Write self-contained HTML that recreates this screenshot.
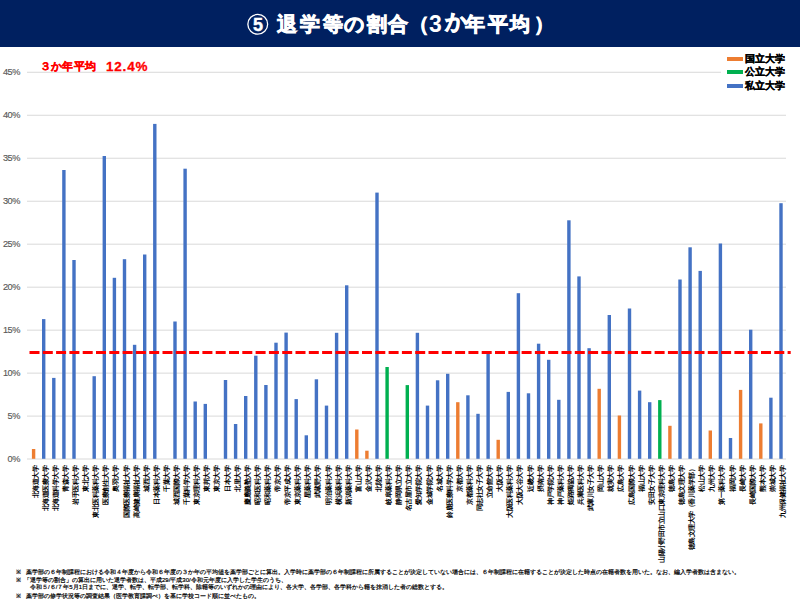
<!DOCTYPE html>
<html><head><meta charset="utf-8">
<style>
html,body{margin:0;padding:0;}
body{width:800px;height:600px;position:relative;overflow:hidden;background:#fff;font-family:"Liberation Sans",sans-serif;}
#hdr{position:absolute;left:0;top:0;width:800px;height:47px;background:#002060;}
.tg{position:absolute;top:9.5px;color:#fff;font-weight:bold;font-size:20px;line-height:28px;white-space:nowrap;-webkit-text-stroke:0.8px #fff;}
.tn{font-size:23px;top:9.5px;-webkit-text-stroke:0;}
#chart{position:absolute;left:0;top:0;}
.yl{position:absolute;right:780px;width:30px;text-align:right;font-size:9.2px;letter-spacing:-0.45px;line-height:12px;color:#595959;-webkit-text-stroke:0.15px #595959;}
.lab{position:absolute;font-size:6.5px;line-height:7px;color:#000;white-space:nowrap;transform-origin:0 0;letter-spacing:-0.54px;font-weight:bold;}
#avg{position:absolute;left:39.5px;top:59px;letter-spacing:0.4px;color:#FF0000;font-weight:bold;font-size:11px;line-height:14px;white-space:nowrap;-webkit-text-stroke:0.3px #f00;}
#avg2{position:absolute;left:106px;top:59.3px;color:#FF0000;font-weight:bold;font-size:13.5px;line-height:16px;letter-spacing:0.8px;white-space:nowrap;-webkit-text-stroke:0.3px #f00;}
.lg{position:absolute;left:727px;width:15.5px;height:4px;}
.lgt{position:absolute;left:745px;font-size:10px;line-height:12px;font-weight:bold;color:#000;white-space:nowrap;-webkit-text-stroke:0.25px #000;}
.note{position:absolute;font-size:6px;line-height:8px;color:#000;white-space:nowrap;-webkit-text-stroke:0.2px #000;}
</style></head><body>
<div id="hdr"></div>
<svg style="position:absolute;left:0;top:0" width="800" height="47"><circle cx="257.75" cy="24.3" r="9.9" fill="none" stroke="#fff" stroke-width="1.3"/><text x="257.9" y="30.8" text-anchor="middle" font-family="Liberation Sans" font-weight="bold" font-size="18" fill="#fff" stroke="#fff" stroke-width="0.4">5</text></svg>
<span class="tg" style="left:277.0px">退</span>
<span class="tg" style="left:300.0px">学</span>
<span class="tg" style="left:322.5px">等</span>
<span class="tg" style="left:344.0px">の</span>
<span class="tg" style="left:366.5px">割</span>
<span class="tg" style="left:387.5px">合</span>
<span class="tg" style="left:409.0px">（</span>
<span class="tg" style="left:464.5px">年</span>
<span class="tg" style="left:487.5px">平</span>
<span class="tg" style="left:509.5px">均</span>
<span class="tg" style="left:534.0px">）</span>
<span class="tg" style="left:444.5px;font-size:22px;top:8.3px">か</span>
<span class="tg tn" style="left:429px">3</span>
<svg id="chart" width="800" height="600">
<line x1="27" y1="416.12" x2="786" y2="416.12" stroke="#D9D9D9" stroke-width="1"/>
<line x1="27" y1="373.14" x2="786" y2="373.14" stroke="#D9D9D9" stroke-width="1"/>
<line x1="27" y1="330.16" x2="786" y2="330.16" stroke="#D9D9D9" stroke-width="1"/>
<line x1="27" y1="287.18" x2="786" y2="287.18" stroke="#D9D9D9" stroke-width="1"/>
<line x1="27" y1="244.20" x2="786" y2="244.20" stroke="#D9D9D9" stroke-width="1"/>
<line x1="27" y1="201.22" x2="786" y2="201.22" stroke="#D9D9D9" stroke-width="1"/>
<line x1="27" y1="158.24" x2="786" y2="158.24" stroke="#D9D9D9" stroke-width="1"/>
<line x1="27" y1="115.26" x2="786" y2="115.26" stroke="#D9D9D9" stroke-width="1"/>
<line x1="27" y1="72.28" x2="721" y2="72.28" stroke="#D9D9D9" stroke-width="1"/>
<line x1="27" y1="459" x2="786" y2="459" stroke="#D9D9D9" stroke-width="1"/>
<rect x="31.90" y="449.0" width="3.4" height="9.8" fill="#ED7D31"/>
<rect x="42.00" y="319.1" width="3.4" height="139.7" fill="#4472C4"/>
<rect x="52.10" y="377.9" width="3.4" height="80.9" fill="#4472C4"/>
<rect x="62.20" y="170.0" width="3.4" height="288.8" fill="#4472C4"/>
<rect x="72.30" y="260.0" width="3.4" height="198.8" fill="#4472C4"/>
<rect x="92.50" y="376.2" width="3.4" height="82.6" fill="#4472C4"/>
<rect x="102.60" y="156.0" width="3.4" height="302.8" fill="#4472C4"/>
<rect x="112.70" y="277.8" width="3.4" height="181.0" fill="#4472C4"/>
<rect x="122.80" y="259.2" width="3.4" height="199.6" fill="#4472C4"/>
<rect x="132.90" y="344.8" width="3.4" height="114.0" fill="#4472C4"/>
<rect x="143.00" y="254.5" width="3.4" height="204.3" fill="#4472C4"/>
<rect x="153.10" y="123.9" width="3.4" height="334.9" fill="#4472C4"/>
<rect x="173.30" y="321.5" width="3.4" height="137.3" fill="#4472C4"/>
<rect x="183.40" y="168.7" width="3.4" height="290.1" fill="#4472C4"/>
<rect x="193.50" y="401.5" width="3.4" height="57.3" fill="#4472C4"/>
<rect x="203.60" y="403.9" width="3.4" height="54.9" fill="#4472C4"/>
<rect x="223.80" y="380.0" width="3.4" height="78.8" fill="#4472C4"/>
<rect x="233.90" y="424.0" width="3.4" height="34.8" fill="#4472C4"/>
<rect x="244.00" y="396.0" width="3.4" height="62.8" fill="#4472C4"/>
<rect x="254.10" y="355.7" width="3.4" height="103.1" fill="#4472C4"/>
<rect x="264.20" y="385.0" width="3.4" height="73.8" fill="#4472C4"/>
<rect x="274.30" y="342.7" width="3.4" height="116.1" fill="#4472C4"/>
<rect x="284.40" y="332.6" width="3.4" height="126.2" fill="#4472C4"/>
<rect x="294.50" y="399.1" width="3.4" height="59.7" fill="#4472C4"/>
<rect x="304.60" y="435.3" width="3.4" height="23.5" fill="#4472C4"/>
<rect x="314.70" y="379.3" width="3.4" height="79.5" fill="#4472C4"/>
<rect x="324.80" y="405.6" width="3.4" height="53.2" fill="#4472C4"/>
<rect x="334.90" y="332.8" width="3.4" height="126.0" fill="#4472C4"/>
<rect x="345.00" y="285.3" width="3.4" height="173.5" fill="#4472C4"/>
<rect x="355.10" y="429.5" width="3.4" height="29.3" fill="#ED7D31"/>
<rect x="365.20" y="450.7" width="3.4" height="8.1" fill="#ED7D31"/>
<rect x="375.30" y="192.6" width="3.4" height="266.2" fill="#4472C4"/>
<rect x="385.40" y="367.0" width="3.4" height="91.8" fill="#00B050"/>
<rect x="405.60" y="385.1" width="3.4" height="73.7" fill="#00B050"/>
<rect x="415.70" y="332.8" width="3.4" height="126.0" fill="#4472C4"/>
<rect x="425.80" y="405.6" width="3.4" height="53.2" fill="#4472C4"/>
<rect x="435.90" y="380.3" width="3.4" height="78.5" fill="#4472C4"/>
<rect x="446.00" y="373.8" width="3.4" height="85.0" fill="#4472C4"/>
<rect x="456.10" y="402.2" width="3.4" height="56.6" fill="#ED7D31"/>
<rect x="466.20" y="395.3" width="3.4" height="63.5" fill="#4472C4"/>
<rect x="476.30" y="413.8" width="3.4" height="45.0" fill="#4472C4"/>
<rect x="486.40" y="353.0" width="3.4" height="105.8" fill="#4472C4"/>
<rect x="496.50" y="439.8" width="3.4" height="19.0" fill="#ED7D31"/>
<rect x="506.60" y="391.9" width="3.4" height="66.9" fill="#4472C4"/>
<rect x="516.70" y="293.2" width="3.4" height="165.6" fill="#4472C4"/>
<rect x="526.80" y="393.3" width="3.4" height="65.5" fill="#4472C4"/>
<rect x="536.90" y="343.7" width="3.4" height="115.1" fill="#4472C4"/>
<rect x="547.00" y="359.8" width="3.4" height="99.0" fill="#4472C4"/>
<rect x="557.10" y="399.8" width="3.4" height="59.0" fill="#4472C4"/>
<rect x="567.20" y="220.3" width="3.4" height="238.5" fill="#4472C4"/>
<rect x="577.30" y="276.4" width="3.4" height="182.4" fill="#4472C4"/>
<rect x="587.40" y="348.2" width="3.4" height="110.6" fill="#4472C4"/>
<rect x="597.50" y="388.8" width="3.4" height="70.0" fill="#ED7D31"/>
<rect x="607.60" y="315.0" width="3.4" height="143.8" fill="#4472C4"/>
<rect x="617.70" y="415.5" width="3.4" height="43.3" fill="#ED7D31"/>
<rect x="627.80" y="308.5" width="3.4" height="150.3" fill="#4472C4"/>
<rect x="637.90" y="390.6" width="3.4" height="68.2" fill="#4472C4"/>
<rect x="648.00" y="402.2" width="3.4" height="56.6" fill="#4472C4"/>
<rect x="658.10" y="400.1" width="3.4" height="58.7" fill="#00B050"/>
<rect x="668.20" y="425.8" width="3.4" height="33.0" fill="#ED7D31"/>
<rect x="678.30" y="279.5" width="3.4" height="179.3" fill="#4472C4"/>
<rect x="688.40" y="247.3" width="3.4" height="211.5" fill="#4472C4"/>
<rect x="698.50" y="270.9" width="3.4" height="187.9" fill="#4472C4"/>
<rect x="708.60" y="430.5" width="3.4" height="28.3" fill="#ED7D31"/>
<rect x="718.70" y="243.5" width="3.4" height="215.3" fill="#4472C4"/>
<rect x="728.80" y="438.0" width="3.4" height="20.8" fill="#4472C4"/>
<rect x="738.90" y="389.9" width="3.4" height="68.9" fill="#ED7D31"/>
<rect x="749.00" y="329.7" width="3.4" height="129.1" fill="#4472C4"/>
<rect x="759.10" y="423.4" width="3.4" height="35.4" fill="#ED7D31"/>
<rect x="769.20" y="397.7" width="3.4" height="61.1" fill="#4472C4"/>
<rect x="779.30" y="203.2" width="3.4" height="255.6" fill="#4472C4"/>
<line x1="29.5" y1="352.4" x2="790.7" y2="352.4" stroke="#FF0000" stroke-width="3" stroke-dasharray="10 3.3"/>
</svg>
<div class="yl" style="top:453.1px">0%</div>
<div class="yl" style="top:410.1px">5%</div>
<div class="yl" style="top:367.1px">10%</div>
<div class="yl" style="top:324.2px">15%</div>
<div class="yl" style="top:281.2px">20%</div>
<div class="yl" style="top:238.2px">25%</div>
<div class="yl" style="top:195.2px">30%</div>
<div class="yl" style="top:152.2px">35%</div>
<div class="yl" style="top:109.3px">40%</div>
<div class="yl" style="top:66.3px">45%</div>
<div id="avg">３か年平均</div><div id="avg2">12.4%</div>
<div class="lg" style="top:56.5px;background:#ED7D31"></div>
<div class="lg" style="top:70.2px;background:#00B050"></div>
<div class="lg" style="top:83.6px;background:#4472C4"></div>
<div class="lgt" style="top:52.5px">国立大学</div>
<div class="lgt" style="top:66px">公立大学</div>
<div class="lgt" style="top:79.5px">私立大学</div>
<div class="lab" style="left:31.6px;top:466px;transform:translate(0,0) rotate(-90deg) translate(-100%,0);">北海道大学</div>
<div class="lab" style="left:41.7px;top:466px;transform:translate(0,0) rotate(-90deg) translate(-100%,0);">北海道医療大学</div>
<div class="lab" style="left:51.8px;top:466px;transform:translate(0,0) rotate(-90deg) translate(-100%,0);">北海道科学大学</div>
<div class="lab" style="left:61.9px;top:466px;transform:translate(0,0) rotate(-90deg) translate(-100%,0);">青森大学</div>
<div class="lab" style="left:72.0px;top:466px;transform:translate(0,0) rotate(-90deg) translate(-100%,0);">岩手医科大学</div>
<div class="lab" style="left:82.1px;top:466px;transform:translate(0,0) rotate(-90deg) translate(-100%,0);">東北大学</div>
<div class="lab" style="left:92.2px;top:466px;transform:translate(0,0) rotate(-90deg) translate(-100%,0);">東北医科薬科大学</div>
<div class="lab" style="left:102.3px;top:466px;transform:translate(0,0) rotate(-90deg) translate(-100%,0);">医療創生大学</div>
<div class="lab" style="left:112.4px;top:466px;transform:translate(0,0) rotate(-90deg) translate(-100%,0);">奥羽大学</div>
<div class="lab" style="left:122.5px;top:466px;transform:translate(0,0) rotate(-90deg) translate(-100%,0);">国際医療福祉大学</div>
<div class="lab" style="left:132.6px;top:466px;transform:translate(0,0) rotate(-90deg) translate(-100%,0);">高崎健康福祉大学</div>
<div class="lab" style="left:142.7px;top:466px;transform:translate(0,0) rotate(-90deg) translate(-100%,0);">城西大学</div>
<div class="lab" style="left:152.8px;top:466px;transform:translate(0,0) rotate(-90deg) translate(-100%,0);">日本薬科大学</div>
<div class="lab" style="left:162.9px;top:466px;transform:translate(0,0) rotate(-90deg) translate(-100%,0);">千葉大学</div>
<div class="lab" style="left:173.0px;top:466px;transform:translate(0,0) rotate(-90deg) translate(-100%,0);">城西国際大学</div>
<div class="lab" style="left:183.1px;top:466px;transform:translate(0,0) rotate(-90deg) translate(-100%,0);">千葉科学大学</div>
<div class="lab" style="left:193.2px;top:466px;transform:translate(0,0) rotate(-90deg) translate(-100%,0);">東京理科大学</div>
<div class="lab" style="left:203.3px;top:466px;transform:translate(0,0) rotate(-90deg) translate(-100%,0);">東邦大学</div>
<div class="lab" style="left:213.4px;top:466px;transform:translate(0,0) rotate(-90deg) translate(-100%,0);">東京大学</div>
<div class="lab" style="left:223.5px;top:466px;transform:translate(0,0) rotate(-90deg) translate(-100%,0);">日本大学</div>
<div class="lab" style="left:233.6px;top:466px;transform:translate(0,0) rotate(-90deg) translate(-100%,0);">北里大学</div>
<div class="lab" style="left:243.7px;top:466px;transform:translate(0,0) rotate(-90deg) translate(-100%,0);">慶應義塾大学</div>
<div class="lab" style="left:253.8px;top:466px;transform:translate(0,0) rotate(-90deg) translate(-100%,0);">昭和医科大学</div>
<div class="lab" style="left:263.9px;top:466px;transform:translate(0,0) rotate(-90deg) translate(-100%,0);">昭和薬科大学</div>
<div class="lab" style="left:274.0px;top:466px;transform:translate(0,0) rotate(-90deg) translate(-100%,0);">帝京大学</div>
<div class="lab" style="left:284.1px;top:466px;transform:translate(0,0) rotate(-90deg) translate(-100%,0);">帝京平成大学</div>
<div class="lab" style="left:294.2px;top:466px;transform:translate(0,0) rotate(-90deg) translate(-100%,0);">東京薬科大学</div>
<div class="lab" style="left:304.3px;top:466px;transform:translate(0,0) rotate(-90deg) translate(-100%,0);">星薬科大学</div>
<div class="lab" style="left:314.4px;top:466px;transform:translate(0,0) rotate(-90deg) translate(-100%,0);">武蔵野大学</div>
<div class="lab" style="left:324.5px;top:466px;transform:translate(0,0) rotate(-90deg) translate(-100%,0);">明治薬科大学</div>
<div class="lab" style="left:334.6px;top:466px;transform:translate(0,0) rotate(-90deg) translate(-100%,0);">横浜薬科大学</div>
<div class="lab" style="left:344.7px;top:466px;transform:translate(0,0) rotate(-90deg) translate(-100%,0);">新潟薬科大学</div>
<div class="lab" style="left:354.8px;top:466px;transform:translate(0,0) rotate(-90deg) translate(-100%,0);">富山大学</div>
<div class="lab" style="left:364.9px;top:466px;transform:translate(0,0) rotate(-90deg) translate(-100%,0);">金沢大学</div>
<div class="lab" style="left:375.0px;top:466px;transform:translate(0,0) rotate(-90deg) translate(-100%,0);">北陸大学</div>
<div class="lab" style="left:385.1px;top:466px;transform:translate(0,0) rotate(-90deg) translate(-100%,0);">岐阜薬科大学</div>
<div class="lab" style="left:395.2px;top:466px;transform:translate(0,0) rotate(-90deg) translate(-100%,0);">静岡県立大学</div>
<div class="lab" style="left:405.3px;top:466px;transform:translate(0,0) rotate(-90deg) translate(-100%,0);">名古屋市立大学</div>
<div class="lab" style="left:415.4px;top:466px;transform:translate(0,0) rotate(-90deg) translate(-100%,0);">愛知学院大学</div>
<div class="lab" style="left:425.5px;top:466px;transform:translate(0,0) rotate(-90deg) translate(-100%,0);">金城学院大学</div>
<div class="lab" style="left:435.6px;top:466px;transform:translate(0,0) rotate(-90deg) translate(-100%,0);">名城大学</div>
<div class="lab" style="left:445.7px;top:466px;transform:translate(0,0) rotate(-90deg) translate(-100%,0);">鈴鹿医療科学大学</div>
<div class="lab" style="left:455.8px;top:466px;transform:translate(0,0) rotate(-90deg) translate(-100%,0);">京都大学</div>
<div class="lab" style="left:465.9px;top:466px;transform:translate(0,0) rotate(-90deg) translate(-100%,0);">京都薬科大学</div>
<div class="lab" style="left:476.0px;top:466px;transform:translate(0,0) rotate(-90deg) translate(-100%,0);">同志社女子大学</div>
<div class="lab" style="left:486.1px;top:466px;transform:translate(0,0) rotate(-90deg) translate(-100%,0);">立命館大学</div>
<div class="lab" style="left:496.2px;top:466px;transform:translate(0,0) rotate(-90deg) translate(-100%,0);">大阪大学</div>
<div class="lab" style="left:506.3px;top:466px;transform:translate(0,0) rotate(-90deg) translate(-100%,0);">大阪医科薬科大学</div>
<div class="lab" style="left:516.4px;top:466px;transform:translate(0,0) rotate(-90deg) translate(-100%,0);">大阪大谷大学</div>
<div class="lab" style="left:526.5px;top:466px;transform:translate(0,0) rotate(-90deg) translate(-100%,0);">近畿大学</div>
<div class="lab" style="left:536.6px;top:466px;transform:translate(0,0) rotate(-90deg) translate(-100%,0);">摂南大学</div>
<div class="lab" style="left:546.7px;top:466px;transform:translate(0,0) rotate(-90deg) translate(-100%,0);">神戸学院大学</div>
<div class="lab" style="left:556.8px;top:466px;transform:translate(0,0) rotate(-90deg) translate(-100%,0);">神戸薬科大学</div>
<div class="lab" style="left:566.9px;top:466px;transform:translate(0,0) rotate(-90deg) translate(-100%,0);">姫路獨協大学</div>
<div class="lab" style="left:577.0px;top:466px;transform:translate(0,0) rotate(-90deg) translate(-100%,0);">兵庫医科大学</div>
<div class="lab" style="left:587.1px;top:466px;transform:translate(0,0) rotate(-90deg) translate(-100%,0);">武庫川女子大学</div>
<div class="lab" style="left:597.2px;top:466px;transform:translate(0,0) rotate(-90deg) translate(-100%,0);">岡山大学</div>
<div class="lab" style="left:607.3px;top:466px;transform:translate(0,0) rotate(-90deg) translate(-100%,0);">就実大学</div>
<div class="lab" style="left:617.4px;top:466px;transform:translate(0,0) rotate(-90deg) translate(-100%,0);">広島大学</div>
<div class="lab" style="left:627.5px;top:466px;transform:translate(0,0) rotate(-90deg) translate(-100%,0);">広島国際大学</div>
<div class="lab" style="left:637.6px;top:466px;transform:translate(0,0) rotate(-90deg) translate(-100%,0);">福山大学</div>
<div class="lab" style="left:647.7px;top:466px;transform:translate(0,0) rotate(-90deg) translate(-100%,0);">安田女子大学</div>
<div class="lab" style="left:657.8px;top:466px;transform:translate(0,0) rotate(-90deg) translate(-100%,0);">山陽小野田市立山口東京理科大学</div>
<div class="lab" style="left:667.9px;top:466px;transform:translate(0,0) rotate(-90deg) translate(-100%,0);">徳島大学</div>
<div class="lab" style="left:678.0px;top:466px;transform:translate(0,0) rotate(-90deg) translate(-100%,0);">徳島文理大学</div>
<div class="lab" style="left:688.1px;top:466px;transform:translate(0,0) rotate(-90deg) translate(-100%,0);">徳島文理大学（香川薬学部）</div>
<div class="lab" style="left:698.2px;top:466px;transform:translate(0,0) rotate(-90deg) translate(-100%,0);">松山大学</div>
<div class="lab" style="left:708.3px;top:466px;transform:translate(0,0) rotate(-90deg) translate(-100%,0);">九州大学</div>
<div class="lab" style="left:718.4px;top:466px;transform:translate(0,0) rotate(-90deg) translate(-100%,0);">第一薬科大学</div>
<div class="lab" style="left:728.5px;top:466px;transform:translate(0,0) rotate(-90deg) translate(-100%,0);">福岡大学</div>
<div class="lab" style="left:738.6px;top:466px;transform:translate(0,0) rotate(-90deg) translate(-100%,0);">長崎大学</div>
<div class="lab" style="left:748.7px;top:466px;transform:translate(0,0) rotate(-90deg) translate(-100%,0);">長崎国際大学</div>
<div class="lab" style="left:758.8px;top:466px;transform:translate(0,0) rotate(-90deg) translate(-100%,0);">熊本大学</div>
<div class="lab" style="left:768.9px;top:466px;transform:translate(0,0) rotate(-90deg) translate(-100%,0);">崇城大学</div>
<div class="lab" style="left:779.0px;top:466px;transform:translate(0,0) rotate(-90deg) translate(-100%,0);">九州保健福祉大学</div>
<div class="note" style="left:16px;top:567.5px">※</div>
<div class="note" style="left:26px;top:567.5px">薬学部の６年制課程における令和４年度から令和６年度の３か年の平均値を薬学部ごとに算出。入学時に薬学部の６年制課程に所属することが決定していない場合には、６年制課程に在籍することが決定した時点の在籍者数を用いた。なお、編入学者数は含まない。</div>
<div class="note" style="left:16px;top:575.5px">※</div>
<div class="note" style="left:24px;top:575.5px">「退学等の割合」の算出に用いた退学者数は、平成29/平成30/令和元年度に入学した学生のうち、</div>
<div class="note" style="left:30px;top:582.5px">令和５/６/７年5月1日までに、退学、転学、転学部、転学科、除籍等のいずれかの理由により、各大学、各学部、各学科から籍を抹消した者の総数とする。</div>
<div class="note" style="left:16px;top:592px">※</div>
<div class="note" style="left:26px;top:592px">薬学部の修学状況等の調査結果（医学教育課調べ）を基に学校コード順に並べたもの。</div>
</body></html>
